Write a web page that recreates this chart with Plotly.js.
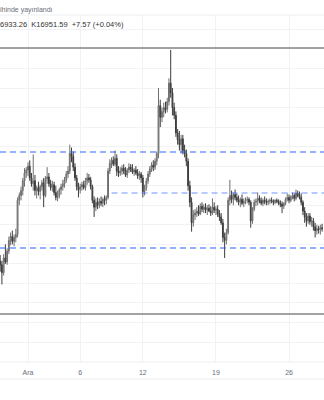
<!DOCTYPE html>
<html>
<head>
<meta charset="utf-8">
<script src="https://cdn.plot.ly/plotly-3.0.1.min.js"></script>
<style>html,body{margin:0;padding:0;background:#fff;}#chart{width:324px;height:400px;}</style>
</head>
<body>
<div id="chart"></div>
<script>
// 4-hour candles starting 2022-11-28 08:00
const startTime = Date.UTC(2022, 10, 28, 8, 0, 0);
const stepHours = 4;

const open = [
16230,16190,16110,16260,
16220,16330,16440,16480,16430,16470,
16500,16850,16900,16950,17050,17130,
17160,17200,17080,17020,17050,16950,
16980,16940,16990,17030,16900,17070,
17090,17020,16980,17010,16930,16880,
16900,16960,16990,17020,17060,17120,
17150,17330,17300,17190,17080,16990,
16960,16990,17010,16980,17050,17080,
17060,16990,16850,16780,16830,16800,
16840,16820,16860,16850,16880,17150,
17230,17260,17220,17280,17150,17130,
17150,17180,17150,17110,17160,17190,
17170,17140,17160,17130,17100,17120,
17080,16940,16980,17050,17120,17170,
17210,17190,17250,17330,17820,17700,
17760,17800,17780,17860,18050,17950,
17800,17720,17540,17470,17420,17480,
17360,17330,17250,17000,16830,16620,
16700,16720,16740,16710,16790,16760,
16780,16750,16770,16740,16720,16780,
16750,16760,16710,16680,16620,16470,
16440,16520,16850,16900,16860,16910,
16880,16850,16830,16860,16820,16840,
16850,16860,16830,16640,16760,16830,
16840,16870,16850,16820,16850,16840,
16830,16840,16850,16840,16830,16850,
16840,16820,16810,16790,16820,16860,
16880,16850,16890,16900,16870,16920,
16900,16880,16830,16740,16680,16640,
16690,16630,16640,16580,16540,16560,
16550,16570];

const high = [
16290,16230,16300,16400,
16360,16480,16520,16540,16500,16560,
16880,16930,16990,17080,17180,17190,
17240,17260,17130,17320,17110,17000,
17040,17010,17060,17080,17100,17190,
17130,17060,17050,17040,17000,16950,
16980,17020,17060,17090,17150,17200,
17420,17390,17350,17230,17110,17030,
17020,17040,17050,17080,17130,17120,
17090,17010,16890,16870,16880,16870,
16890,16880,16900,16900,17180,17270,
17290,17300,17360,17320,17200,17190,
17210,17220,17190,17180,17230,17220,
17220,17180,17200,17170,17150,17140,
17110,17010,17080,17150,17200,17240,
17260,17280,17350,18000,17880,17800,
17850,17860,17900,18100,18390,18000,
17850,17760,17580,17560,17520,17520,
17420,17370,17280,17050,16880,16750,
16760,16780,16800,16820,16830,16810,
16820,16800,16810,16790,16870,16830,
16790,16800,16750,16720,16660,16520,
16560,16880,17060,16950,16930,16960,
16920,16900,16880,16910,16870,16880,
16890,16880,16850,16780,16860,16870,
16930,16900,16880,16870,16890,16870,
16860,16870,16880,16860,16860,16870,
16860,16850,16840,16830,16880,16920,
16910,16900,16930,16920,16960,16950,
16940,16920,16850,16780,16720,16720,
16720,16680,16670,16620,16600,16590,
16600,16610];

const low = [
16120,15990,16080,16200,
16190,16300,16390,16400,16380,16420,
16470,16800,16850,16900,16990,17080,
17100,17050,16990,16950,16900,16870,
16900,16860,16950,16780,16880,17020,
16990,16950,16940,16900,16850,16840,
16870,16910,16950,16980,17030,17080,
17120,17240,17150,17050,16950,16880,
16920,16950,16960,16950,17010,17030,
16960,16820,16680,16740,16760,16770,
16790,16780,16800,16810,16860,17120,
17180,17200,17200,17100,17090,17100,
17110,17120,17090,17080,17130,17140,
17120,17100,17110,17070,17060,17030,
16880,16900,16950,17020,17090,17140,
17150,17160,17210,17280,17600,17650,
17700,17740,17750,17820,17900,17720,
17680,17500,17420,17360,17330,17320,
17290,17200,16950,16780,16530,16580,
16650,16680,16690,16700,16730,16720,
16720,16700,16730,16690,16700,16720,
16700,16680,16640,16600,16420,16260,
16400,16500,16800,16820,16800,16850,
16830,16800,16780,16800,16780,16810,
16820,16800,16570,16610,16740,16790,
16800,16820,16800,16790,16810,16800,
16800,16810,16820,16800,16810,16820,
16800,16780,16720,16760,16800,16840,
16820,16830,16860,16840,16850,16880,
16860,16800,16700,16620,16580,16610,
16600,16580,16540,16470,16500,16510,
16500,16530];

const close = [
16190,16110,16260,16220,
16330,16440,16480,16430,16470,16500,
16850,16900,16950,17050,17130,17160,
17200,17080,17020,17050,16950,16980,
16940,16990,17030,16900,17070,17090,
17020,16980,17010,16930,16880,16900,
16960,16990,17020,17060,17120,17150,
17330,17300,17190,17080,16990,16960,
16990,17010,16980,17050,17080,17060,
16990,16850,16780,16830,16800,16840,
16820,16860,16850,16880,17150,17230,
17260,17220,17280,17150,17130,17150,
17180,17150,17110,17160,17190,17170,
17140,17160,17130,17100,17120,17080,
16940,16980,17050,17120,17170,17210,
17190,17250,17330,17820,17700,17760,
17800,17780,17860,18050,17950,17800,
17720,17540,17470,17420,17480,17360,
17330,17250,17000,16830,16620,16700,
16720,16740,16710,16790,16760,16780,
16750,16770,16740,16720,16780,16750,
16760,16710,16680,16620,16470,16440,
16520,16850,16900,16860,16910,16880,
16850,16830,16860,16820,16840,16850,
16860,16830,16640,16760,16830,16840,
16870,16850,16820,16850,16840,16830,
16840,16850,16840,16830,16850,16840,
16820,16810,16790,16820,16860,16880,
16850,16890,16900,16870,16920,16900,
16880,16830,16740,16680,16640,16690,
16630,16640,16580,16540,16560,16550,
16570,16560];

// horizontal levels
const resistanceLevel = 17345;
const midLevel = 16925;
const midLevelStart = '2022-12-09 00:00';
const supportLevel = 16362;
const upperLine = 18409;
const lowerLine = 15687;

const tickVals = ['2022-12-01','2022-12-06','2022-12-12','2022-12-19','2022-12-26'];
const tickText = ['Ara','6','12','19','26'];

const headerLine1 = 'ihinde yayınlandı';
const headerLine2 = '6933.26&nbsp;&nbsp;K16951.59&nbsp;&nbsp;+7.57 (+0.04%)';

function pad(n){return (n<10?'0':'')+n;}
const times = open.map((_, i) => {
  const d = new Date(startTime + i*stepHours*3600*1000);
  return d.getUTCFullYear()+'-'+pad(d.getUTCMonth()+1)+'-'+pad(d.getUTCDate())+' '+pad(d.getUTCHours())+':00';
});

const trace = {
  type: 'candlestick',
  x: times, open: open, high: high, low: low, close: close,
  increasing: {line: {color: '#6f6f6f', width: 1}, fillcolor: '#a6a6a6'},
  decreasing: {line: {color: '#3c3c3c', width: 1}, fillcolor: '#505050'},
  whiskerwidth: 0,
  hoverinfo: 'none',
  showlegend: false
};

const plotH = 347;
const layout = {
  width: 324, height: 400,
  margin: {l: 0, r: 0, t: 15, b: 38},
  paper_bgcolor: '#ffffff', plot_bgcolor: '#ffffff',
  font: {family: 'Liberation Sans, Arial, sans-serif', size: 7, color: '#555'},
  showlegend: false,
  xaxis: {
    type: 'date',
    range: ['2022-11-28 07:38', '2022-12-29 08:24'],
    rangeslider: {visible: false},
    tickmode: 'array', tickvals: tickVals, ticktext: tickText,
    showgrid: true, gridcolor: '#f0f2f6', gridwidth: 1,
    ticks: 'outside', ticklen: 4, tickcolor: 'rgba(0,0,0,0)',
    tickfont: {size: 7, color: '#6a6d78'},
    showline: false, zeroline: false, fixedrange: true
  },
  yaxis: {
    range: [15195.3, 18747.2],
    tick0: 0, dtick: 200,
    showgrid: true, gridcolor: '#f0f2f6', gridwidth: 1,
    showticklabels: false, ticks: '', zeroline: false, showline: false, fixedrange: true
  },
  shapes: [
    {type:'line', xref:'paper', yref:'paper', x0:0, x1:1, y0:1, y1:1, line:{color:'#eceef2', width:1}},
    {type:'line', xref:'paper', yref:'paper', x0:0, x1:1, y0:0, y1:0, line:{color:'#eceef2', width:1}},
    {type:'line', xref:'paper', yref:'paper', x0:0, x1:1, y0:-17/plotH, y1:-17/plotH, line:{color:'#eceef2', width:1}},
    {type:'line', xref:'paper', yref:'y', x0:0, x1:1, y0:upperLine, y1:upperLine, line:{color:'#858585', width:1.5}},
    {type:'line', xref:'paper', yref:'y', x0:0, x1:1, y0:lowerLine, y1:lowerLine, line:{color:'#858585', width:1.5}},
    {type:'line', xref:'paper', yref:'y', x0:0, x1:1, y0:resistanceLevel, y1:resistanceLevel, line:{color:'rgba(41,98,255,0.65)', width:1.5, dash:'6px,4px'}},
    {type:'line', xref:'x', yref:'y', x0:midLevelStart, x1:'2022-12-30', y0:midLevel, y1:midLevel, line:{color:'rgba(41,98,255,0.45)', width:1.5, dash:'6px,4px'}},
    {type:'line', xref:'paper', yref:'y', x0:0, x1:1, y0:supportLevel, y1:supportLevel, line:{color:'#2962ff', width:1.2, dash:'6px,4px'}}
  ],
  annotations: [
    {xref:'paper', yref:'paper', x:0, y:1+5/plotH, xanchor:'left', yanchor:'middle', xshift:-2, showarrow:false,
     text: headerLine1, font:{size:7, color:'#6a6d78'}},
    {xref:'paper', yref:'paper', x:0, y:1-10/plotH, xanchor:'left', yanchor:'middle', xshift:-2, showarrow:false,
     text: headerLine2, font:{size:7.5, color:'#333'}}
  ]
};

Plotly.newPlot('chart', [trace], layout, {displayModeBar: false, staticPlot: true});
</script>
</body>
</html>
